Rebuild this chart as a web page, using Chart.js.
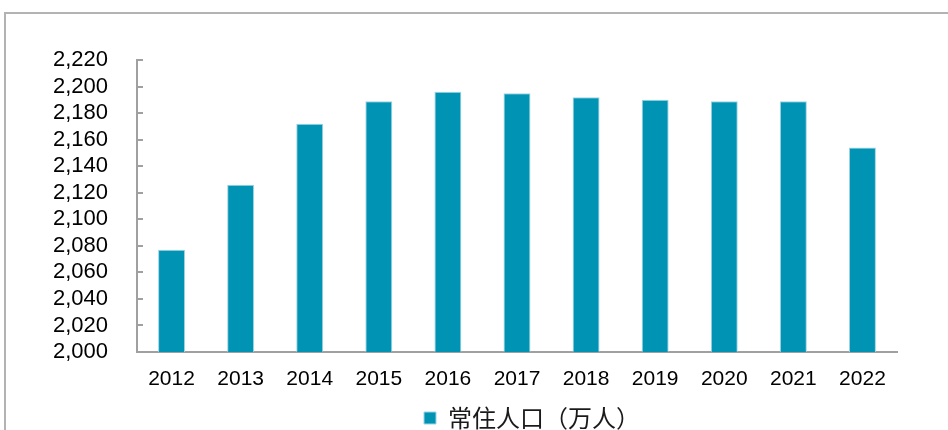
<!DOCTYPE html>
<html>
<head>
<meta charset="utf-8">
<script src="https://cdn.jsdelivr.net/npm/chart.js@4/dist/chart.umd.min.js"></script>
<style>
  html, body { margin: 0; padding: 0; background: #fff; overflow: hidden; width: 948px; height: 430px; }
  #frame {
    position: absolute; left: 4px; top: 12px;
    border-left: 2px solid #b3b3b3; border-top: 2px solid #b3b3b3;
    width: 1052px; height: 426px;
  }
  canvas { display: block; }
</style>
</head>
<body>
<div id="frame"><canvas id="chart" width="1052" height="426"></canvas></div>
<script>
const years = ["2012", "2013", "2014", "2015", "2016", "2017", "2018", "2019", "2020", "2021", "2022"];
const population = [2077, 2126, 2172, 2189, 2196, 2195, 2192, 2190, 2189, 2189, 2154];
const seriesName = "常住人口（万人）";
const yMin = 2000, yMax = 2220, yStep = 20;

const barColor = "#0093b4";
const axisColor = "#a0a0a0";

// tick marks on the y axis point into the plot, like the Excel original
const innerTicks = {
  id: "innerTicks",
  afterDraw(chart) {
    const y = chart.scales.y;
    const ctx = chart.ctx;
    ctx.save();
    ctx.strokeStyle = axisColor;
    ctx.lineWidth = 2;
    y.ticks.forEach(t => {
      if (t.value === yMin) return;
      const py = Math.round(y.getPixelForValue(t.value));
      ctx.beginPath();
      ctx.moveTo(y.right, py);
      ctx.lineTo(y.right + 6, py);
      ctx.stroke();
    });
    ctx.restore();
  }
};

new Chart(document.getElementById("chart"), {
  type: "bar",
  data: {
    labels: years,
    datasets: [{
      label: seriesName,
      data: population,
      backgroundColor: barColor,
      borderColor: "#9fd3e2",
      borderWidth: 1,
      barPercentage: 0.39,
      categoryPercentage: 1
    }]
  },
  options: {
    responsive: false,
    devicePixelRatio: 1,
    animation: false,
    layout: { padding: { top: 46, left: 0, right: 0, bottom: 0 } },
    plugins: {
      tooltip: { enabled: false },
      legend: {
        position: "bottom",
        labels: {
          boxWidth: 12,
          boxHeight: 12,
          padding: 10,
          color: "#1a1a1a",
          font: { family: "'Noto Sans CJK SC', 'Liberation Sans', sans-serif", size: 24 }
        }
      }
    },
    scales: {
      x: {
        grid: { display: false, drawTicks: false },
        border: { color: axisColor, width: 2 },
        ticks: {
          color: "#000",
          padding: 15,
          autoSkip: false,
          maxRotation: 0,
          font: { family: "'Liberation Sans', Arial, sans-serif", size: 21 }
        },
        afterFit: s => { s.height = 44; }
      },
      y: {
        min: yMin,
        max: yMax,
        grid: { display: false, drawTicks: false },
        border: { color: axisColor, width: 2 },
        ticks: {
          stepSize: yStep,
          autoSkip: false,
          color: "#000",
          padding: 29,
          font: { family: "'Liberation Sans', Arial, sans-serif", size: 22 },
          callback: v => v.toLocaleString("en-US")
        },
        afterFit: s => { s.width = 131; }
      },
      yR: {
        position: "right",
        grid: { display: false, drawTicks: false },
        border: { display: false },
        ticks: { display: false },
        afterFit: s => { s.width = 161; }
      }
    }
  },
  plugins: [innerTicks]
});
</script>
</body>
</html>
